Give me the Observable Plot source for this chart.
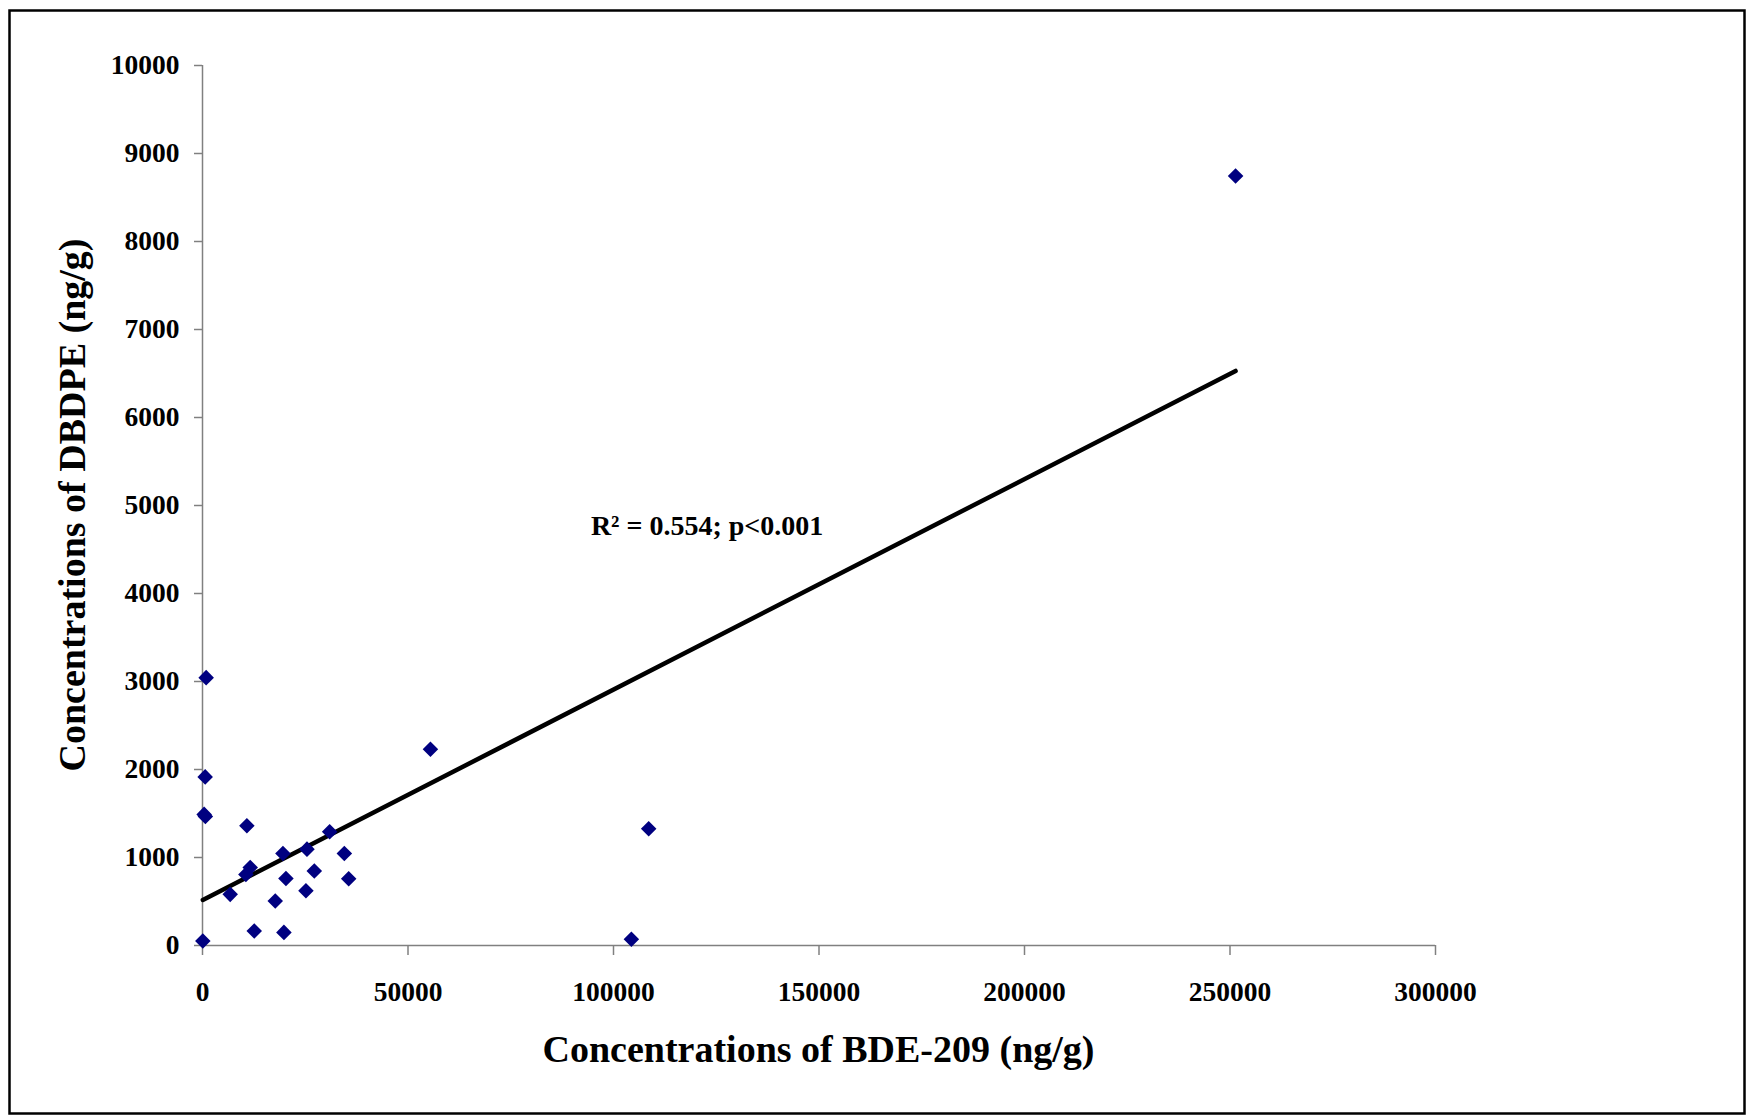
<!DOCTYPE html>
<html>
<head>
<meta charset="utf-8">
<script src="https://cdn.jsdelivr.net/npm/d3@7"></script>
<script src="https://cdn.jsdelivr.net/npm/@observablehq/plot@0.6"></script>
<style>
  html, body { margin: 0; padding: 0; background: #fff; }
  #chart { position: absolute; left: 0; top: 0; }
</style>
</head>
<body>
<div id="chart"></div>
<script>
// BDE-209 concentrations (ng/g)
const bde209 = [890, 650, 400, 700, 10800, 30940, 19570, 25420, 34510, 11610, 10560, 27200, 20300, 35570, 6740, 25170, 17700, 12590, 19810, 80, 55460, 108560, 104350, 251360];
// DBDPE concentrations (ng/g)
const dbdpe = [3044, 1916, 1490, 1465, 1360, 1292, 1046, 1095, 1046, 887, 808, 846, 762, 758, 581, 622, 505, 165, 149, 51, 2230, 1326, 70, 8745];

const xTicks = [0, 50000, 100000, 150000, 200000, 250000, 300000];
const yTicks = [0, 1000, 2000, 3000, 4000, 5000, 6000, 7000, 8000, 9000, 10000];

const xLabel = "Concentrations of BDE-209 (ng/g)";
const yLabel = "Concentrations of DBDPE (ng/g)";
const annotText = ["R\u00B2 = 0.554; p<0.001"];
const annotX = [94500];
const annotY = [4660];

const points = bde209.map((x, i) => ({x, y: dbdpe[i]}));
const annot = annotText.map((t, i) => ({t, x: annotX[i], y: annotY[i]}));

const W = 1747, H = 1118;
const fontFamily = '"Liberation Serif", "Times New Roman", Times, serif';

const plot = Plot.plot({
  width: W,
  height: H,
  marginLeft: 202,
  marginRight: 312,
  marginTop: 65,
  marginBottom: 173,
  style: {fontFamily, fontWeight: "bold", fontSize: "27.5px", color: "black", background: "white", overflow: "visible"},
  x: {domain: [0, 300000]},
  y: {domain: [0, 10000]},
  marks: [
    Plot.ruleY([0], {stroke: "#808080", strokeWidth: 1.5}),
    Plot.ruleX([0], {stroke: "#808080", strokeWidth: 1.5}),
    Plot.axisX({ticks: xTicks, tickFormat: d => String(d), tickSize: 10, tickPadding: 26, stroke: "#808080", strokeWidth: 1.5, label: null, fill: "black"}),
    Plot.axisY({ticks: yTicks, tickFormat: d => String(d), tickSize: 8, tickPadding: 15, stroke: "#808080", strokeWidth: 1.5, label: null, fill: "black"}),
    Plot.linearRegressionY(points, {x: "x", y: "y", stroke: "black", strokeWidth: 4.5, ci: 0}),
    Plot.dot(points, {x: "x", y: "y", symbol: "diamond2", r: 7, fill: "#000080", stroke: "none"}),
    Plot.text(annot, {x: "x", y: "y", text: "t", textAnchor: "start", lineAnchor: "bottom", fontSize: 28, fontWeight: "bold", fill: "black"})
  ]
});

document.getElementById("chart").appendChild(plot);

const svg = d3.select(plot);
const xr = plot.scale("x").range;
const yr = plot.scale("y").range;
const xc = (xr[0] + xr[1]) / 2;
const yc = (yr[0] + yr[1]) / 2;

svg.append("text")
  .attr("x", xc).attr("y", 1062)
  .attr("text-anchor", "middle")
  .attr("font-size", 38).attr("font-weight", "bold")
  .attr("font-family", fontFamily)
  .attr("fill", "black")
  .text(xLabel);

svg.append("text")
  .attr("transform", `translate(85,${yc}) rotate(-90)`)
  .attr("text-anchor", "middle")
  .attr("font-size", 38).attr("font-weight", "bold")
  .attr("font-family", fontFamily)
  .attr("fill", "black")
  .text(yLabel);

svg.append("rect")
  .attr("x", 9.5).attr("y", 10.5)
  .attr("width", 1735).attr("height", 1103)
  .attr("fill", "none").attr("stroke", "black").attr("stroke-width", 2.5);
</script>
</body>
</html>
